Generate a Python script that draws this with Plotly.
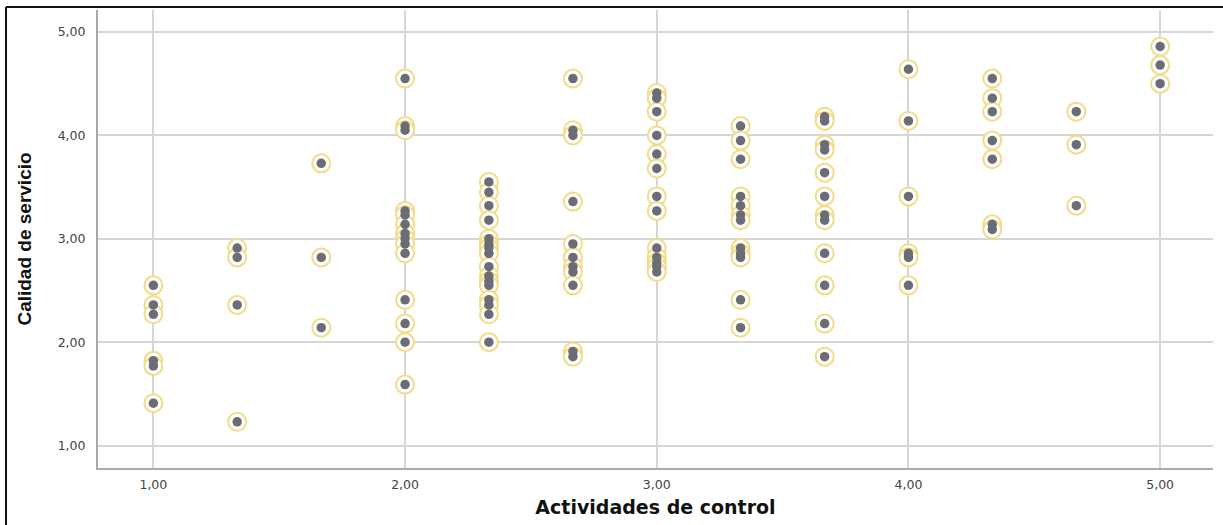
import plotly.graph_objects as go

# Actividades de control (x groups) and Calidad de servicio values per group
actividades = [1.00, 1.333, 1.667, 2.00, 2.333, 2.667, 3.00, 3.333, 3.667, 4.00, 4.333, 4.667, 5.00]
calidad = [
    [2.55, 2.36, 2.27, 1.82, 1.77, 1.41],
    [2.91, 2.82, 2.36, 1.23],
    [3.73, 2.82, 2.14],
    [4.55, 4.09, 4.05, 3.27, 3.23, 3.14, 3.05, 3.00, 2.95, 2.86, 2.41, 2.18, 2.00, 1.59],
    [3.55, 3.45, 3.32, 3.18, 3.00, 2.95, 2.91, 2.86, 2.73, 2.64, 2.59, 2.55, 2.41, 2.36, 2.27, 2.00],
    [4.55, 4.05, 4.00, 3.36, 2.95, 2.82, 2.73, 2.68, 2.55, 1.91, 1.86],
    [4.41, 4.36, 4.23, 4.00, 3.82, 3.68, 3.41, 3.27, 2.91, 2.82, 2.77, 2.73, 2.68],
    [4.09, 3.95, 3.77, 3.41, 3.32, 3.23, 3.18, 2.91, 2.86, 2.82, 2.41, 2.14],
    [4.18, 4.14, 3.91, 3.86, 3.64, 3.41, 3.23, 3.18, 2.86, 2.55, 2.18, 1.86],
    [4.64, 4.14, 3.41, 2.86, 2.82, 2.55],
    [4.55, 4.36, 4.23, 3.95, 3.77, 3.14, 3.09],
    [4.23, 3.91, 3.32],
    [4.86, 4.68, 4.50],
]
tick_vals = [1, 2, 3, 4, 5]

xs, ys = [], []
for xv, group in zip(actividades, calidad):
    for yv in group:
        xs.append(xv)
        ys.append(yv)

fig = go.Figure()
# yellow halo rings behind the points
fig.add_trace(go.Scatter(
    x=xs, y=ys, mode="markers", hoverinfo="skip",
    marker=dict(symbol="circle", size=18, color="white",
                line=dict(color="#f2dc86", width=2)),
))
# grey data points
fig.add_trace(go.Scatter(
    x=xs, y=ys, mode="markers",
    marker=dict(symbol="circle", size=9.5, color="#6c6c74", line=dict(width=0)),
))

tick_font = dict(family="DejaVu Sans, Arial, sans-serif", size=12.5, color="#444444")
axis_common = dict(
    showgrid=True, gridcolor="#d6d6d6", gridwidth=1.5,
    zeroline=False, showline=True, linecolor="#a9a9a9", linewidth=2,
    tickvals=tick_vals, tickformat=".2f",
    ticks="outside", tickcolor="rgba(0,0,0,0)",
    tickfont=tick_font,
)

fig.update_layout(
    width=1223, height=525,
    margin=dict(l=98, r=10, t=10, b=57),
    paper_bgcolor="white", plot_bgcolor="white",
    showlegend=False,
    separators=",.",
    xaxis=dict(range=[0.78, 5.21], ticklen=4, **axis_common,
               title=dict(text="<b>Actividades de control</b>", standoff=10,
                          font=dict(family="DejaVu Sans, Arial, sans-serif", size=19, color="#111111"))),
    yaxis=dict(range=[0.783, 5.213], ticklen=8, **axis_common,
               title=dict(text="<b>Calidad de servicio</b>", standoff=21,
                          font=dict(family="Liberation Sans, Arial, sans-serif", size=19, color="#111111"))),
    shapes=[
        # outer frame on left and top edges
        dict(type="line", xref="paper", yref="paper", x0=-0.0825, x1=-0.0825, y0=-0.2, y1=1.0066,
             line=dict(color="#111111", width=2)),
        dict(type="line", xref="paper", yref="paper", x0=-0.0825, x1=1.05, y0=1.0066, y1=1.0066,
             line=dict(color="#111111", width=2)),
    ],
)

fig.write_html("out.html")
